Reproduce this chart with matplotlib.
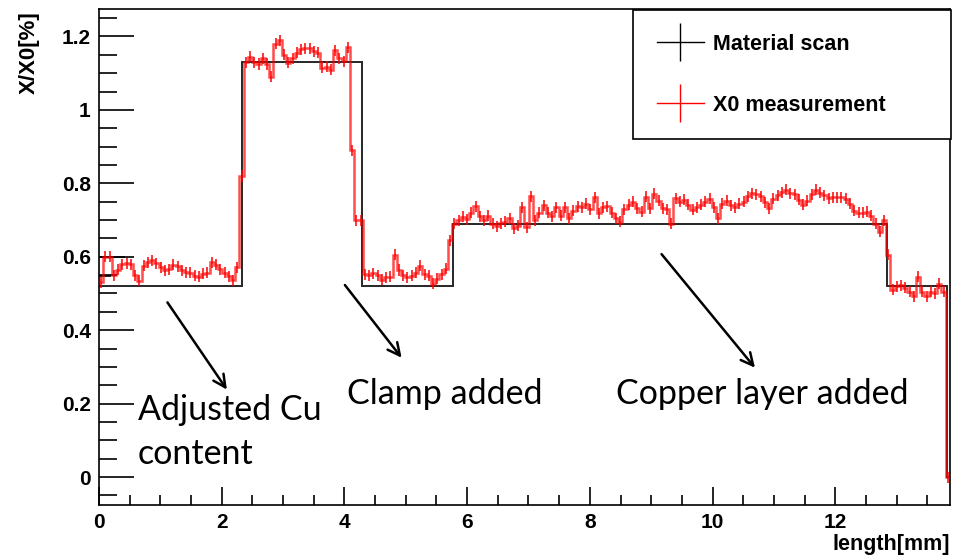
import numpy as np
import matplotlib
matplotlib.use("Agg")
import matplotlib.pyplot as plt
from matplotlib.lines import Line2D
from matplotlib.ticker import MultipleLocator, FormatStrFormatter

# X0 measurement, 200 bins over the length range
x_max = 13.87
x0_meas = [
    0.53, 0.60, 0.60, 0.55, 0.565, 0.58, 0.582, 0.58, 0.55, 0.535,
    0.575, 0.585, 0.59, 0.583, 0.572, 0.563, 0.566, 0.578, 0.574, 0.563,
    0.558, 0.556, 0.549, 0.546, 0.554, 0.557, 0.585, 0.578, 0.566, 0.556,
    0.547, 0.536, 0.572, 0.82,
    1.13, 1.145, 1.13, 1.125, 1.14, 1.125, 1.09, 1.18, 1.19, 1.15,
    1.128, 1.14, 1.155, 1.165, 1.168, 1.168, 1.16, 1.155, 1.115, 1.118,
    1.11, 1.163, 1.14, 1.132, 1.17, 0.89, 0.70, 0.70,
    0.552, 0.55, 0.555, 0.55, 0.537, 0.544, 0.545, 0.605, 0.564, 0.55,
    0.544, 0.548, 0.556, 0.575, 0.553, 0.548, 0.527, 0.54, 0.553, 0.568,
    0.645, 0.69, 0.70, 0.709, 0.702, 0.72, 0.737, 0.71, 0.70, 0.712,
    0.69, 0.683, 0.691, 0.695, 0.705, 0.678, 0.685, 0.735,
    0.68, 0.765, 0.70, 0.72, 0.74, 0.72, 0.71, 0.735, 0.712, 0.735,
    0.705, 0.725, 0.738, 0.735, 0.745, 0.73, 0.762, 0.718, 0.735, 0.737,
    0.72, 0.705, 0.696, 0.73, 0.742, 0.75, 0.732, 0.723, 0.764, 0.732,
    0.772, 0.752,
    0.732, 0.73, 0.69, 0.76, 0.75, 0.755, 0.742, 0.728, 0.735, 0.742,
    0.75, 0.758, 0.735, 0.705, 0.745, 0.752, 0.74, 0.735, 0.745, 0.75,
    0.765, 0.773, 0.77, 0.765, 0.748, 0.732, 0.758, 0.768, 0.776, 0.782,
    0.773, 0.77, 0.755,
    0.742, 0.752, 0.77, 0.782, 0.775, 0.768, 0.76, 0.762, 0.762, 0.762,
    0.758, 0.745, 0.725, 0.72, 0.72, 0.722, 0.712, 0.69, 0.668, 0.70,
    0.605, 0.51, 0.52, 0.522, 0.515, 0.505, 0.492, 0.545, 0.505, 0.492,
    0.505, 0.5, 0.527, 0.505, 0.0,
]
x0_err = 0.015

# material scan steps
scan_edges = [0, 2.33, 4.28, 5.77, 12.85, 13.82, 13.87]
scan_vals = [0.52, 1.13, 0.52, 0.69, 0.52, 0.0]
# short extra scan segments at the very start
scan_head_vals = [0.60, 0.548]
scan_head_ends = [0.42, 0.2]

# annotations: text, text pos, arrow start, arrow end
notes = ["Adjusted Cu\ncontent", "Clamp added", "Copper layer added"]
note_pos = [(0.63, 0.225), (4.04, 0.27), (8.42, 0.27)]
arrow_from = [(1.09, 0.482), (3.98, 0.529), (9.14, 0.613)]
arrow_to = [(2.11, 0.232), (4.96, 0.319), (10.72, 0.292)]

bold = dict(family="Liberation Sans", weight="bold")

fig = plt.figure(figsize=(9.63, 5.58), dpi=100)
ax = fig.add_axes([0.1028, 0.095, 0.8837, 0.889])

vals = np.array(x0_meas)
edges = np.linspace(0, x_max, len(vals) + 1)
centers = 0.5 * (edges[:-1] + edges[1:])

ax.stairs(scan_vals, scan_edges, baseline=None, color="black", lw=1.4,
          alpha=0.85, zorder=3)
ax.hlines(scan_head_vals, 0, scan_head_ends, color="black", lw=1.4, alpha=0.85,
          zorder=3)
ax.stairs(vals, edges, baseline=None, color="red", lw=1.8, alpha=0.7, zorder=4)
ax.errorbar(centers, vals, yerr=x0_err, fmt="none", ecolor="red", elinewidth=1.3,
            alpha=0.85, zorder=4)

for t, p, a, b in zip(notes, note_pos, arrow_from, arrow_to):
    ax.text(p[0], p[1], t, fontsize=24.5, family="Lato", va="top", ha="left",
            linespacing=1.45, zorder=5)
    ax.annotate("", xy=b, xytext=a,
                arrowprops=dict(arrowstyle="->", lw=1.8, color="black",
                                mutation_scale=22))

ax.set_xlim(0, x_max)
ax.set_ylim(-0.076, 1.275)
ax.xaxis.set_major_locator(MultipleLocator(2))
ax.xaxis.set_minor_locator(MultipleLocator(0.5))
ax.yaxis.set_major_locator(MultipleLocator(0.2))
ax.yaxis.set_minor_locator(MultipleLocator(0.05))
ax.yaxis.set_major_formatter(FormatStrFormatter("%g"))
ax.tick_params(which="both", direction="in", top=False, right=False, width=1.2)
ax.tick_params(axis="x", which="major", length=13, pad=6)
ax.tick_params(axis="x", which="minor", length=7)
ax.tick_params(axis="y", which="major", length=25, pad=6)
ax.tick_params(axis="y", which="minor", length=13)
for lab in ax.get_xticklabels() + ax.get_yticklabels():
    lab.set_fontproperties(dict(size=15, **bold))
for s in ax.spines.values():
    s.set_linewidth(1.2)

ax.set_xlabel("length[mm]", loc="right", fontsize=15.5, **bold)
ax.set_ylabel("X/X0[%]", loc="top", fontsize=16, **bold)
ax.xaxis.set_label_coords(1.0, -0.058)
ax.yaxis.set_label_coords(-0.07, 0.995)

handles = [Line2D([], [], color="black", marker="|", markersize=28, lw=1, mew=1),
           Line2D([], [], color="red", marker="|", markersize=28, lw=1, mew=1)]
leg = ax.legend(handles, ["Material scan", "X0 measurement"],
                bbox_to_anchor=(633 / 963, 1 - 133 / 558, 318 / 963, 123 / 558),
                bbox_transform=fig.transFigure, loc="upper left", mode="expand",
                prop=dict(size=15.5, **bold), fancybox=False, framealpha=1,
                edgecolor="black", borderpad=1.1, labelspacing=1.85,
                handlelength=2.2, handletextpad=0.4, borderaxespad=0)
leg.get_frame().set_linewidth(1.2)

fig.savefig("out.png", dpi=100)
